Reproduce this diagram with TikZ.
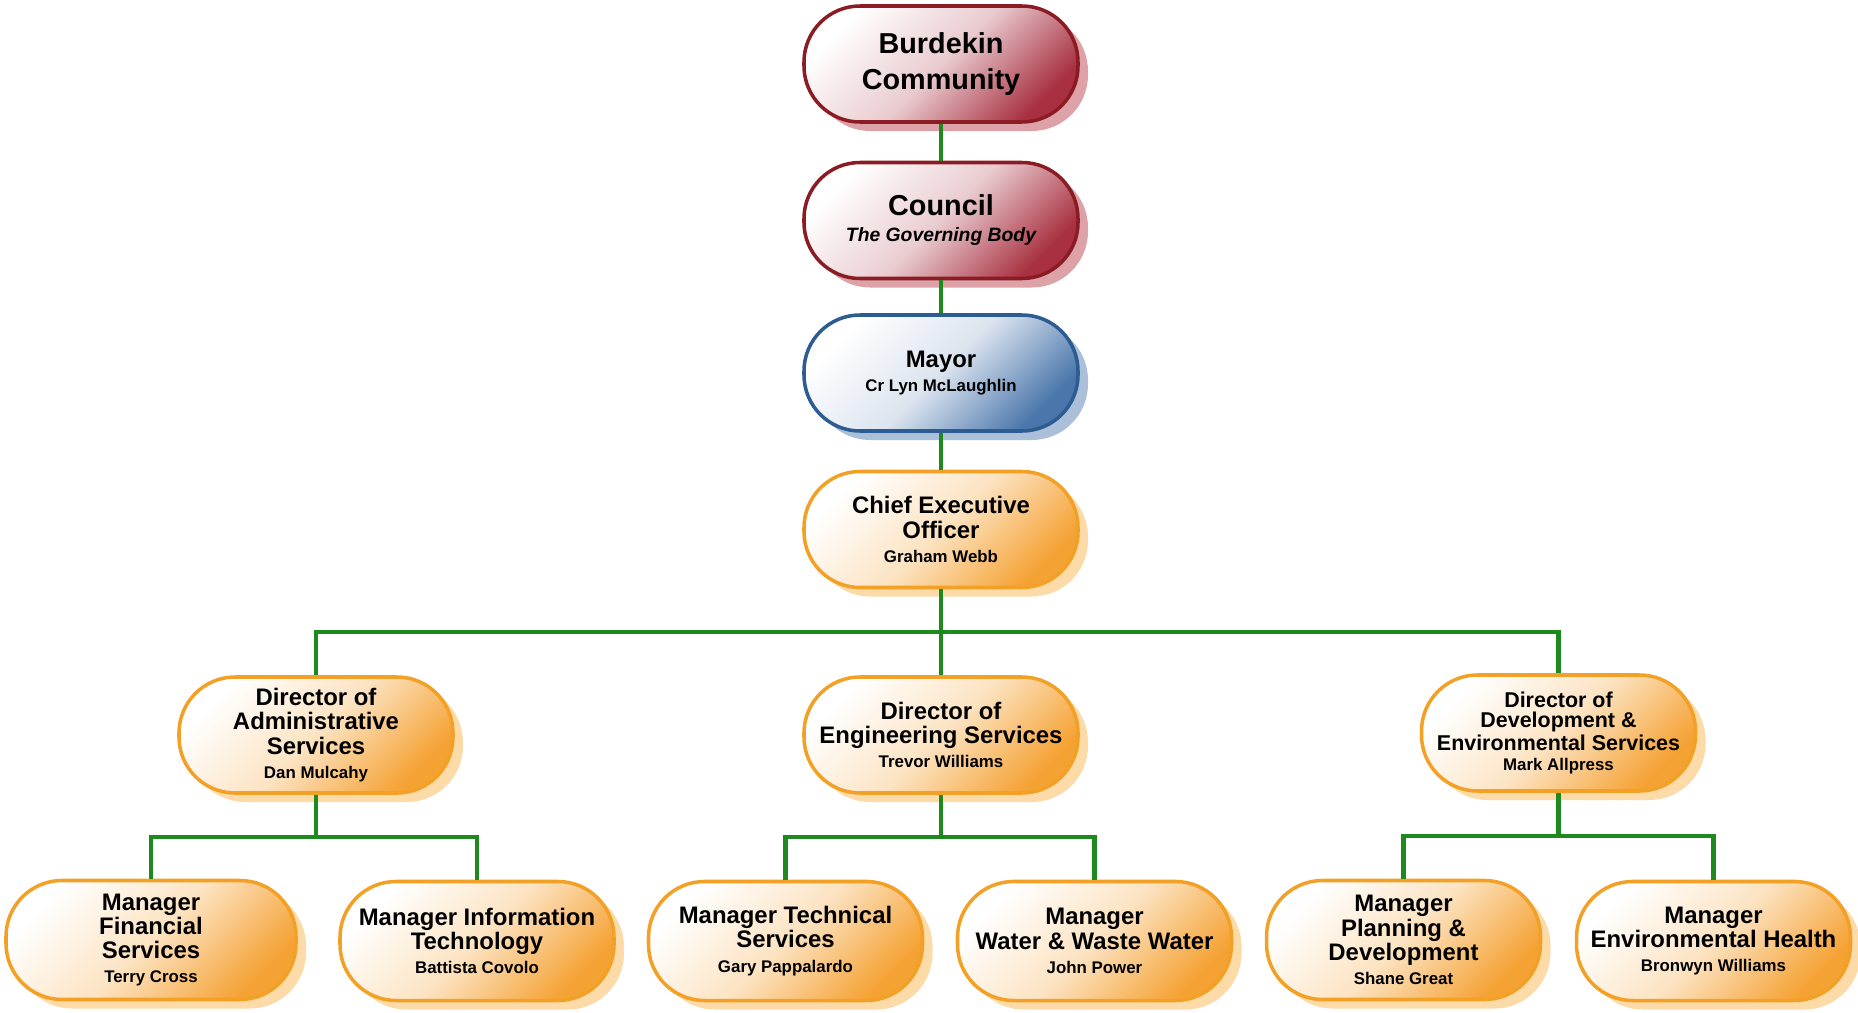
\documentclass[tikz,border=0pt]{standalone}
\usepackage{fontspec}
\setmainfont{Liberation Sans}
\usepackage{tikz}
\usetikzlibrary{shadows,positioning,calc}
\usepackage{xcolor}

\definecolor{redline}{HTML}{8C1C24}
\definecolor{redfill}{HTML}{A83040}
\definecolor{redshade}{HTML}{DDA2A8}
\definecolor{blueline}{HTML}{2D5C92}
\definecolor{bluefill}{HTML}{4A76AC}
\definecolor{blueshade}{HTML}{ABBFD8}
\definecolor{orangeline}{HTML}{F3A126}
\definecolor{orangefill}{HTML}{F5A234}
\definecolor{orangeshade}{HTML}{FCDBA8}
\definecolor{linkgreen}{HTML}{1E8A1E}

\newcommand{\who}[1]{{\fontsize{4.8}{5.4}\selectfont #1}}

\begin{document}
\begin{tikzpicture}[
    box/.style={rectangle, rounded corners=0.56cm, minimum width=2.74cm, minimum height=1.16cm,
        inner sep=1pt, align=center, line width=1pt, font=\fontsize{6.8}{6.9}\selectfont\bfseries},
    redbox/.style={box, draw=redline, top color=white, bottom color=redfill, middle color=redfill!25,
        shading angle=45, drop shadow={shadow xshift=0.1cm, shadow yshift=-0.09cm, fill=redshade, opacity=1}},
    bluebox/.style={box, draw=blueline, top color=white, bottom color=bluefill, middle color=bluefill!20,
        shading angle=45, drop shadow={shadow xshift=0.1cm, shadow yshift=-0.09cm, fill=blueshade, opacity=1}},
    orangebox/.style={box, draw=orangeline, top color=white, bottom color=orangefill, middle color=orangefill!30,
        shading angle=45, drop shadow={shadow xshift=0.1cm, shadow yshift=-0.09cm, fill=orangeshade, opacity=1}},
    mgrbox/.style={orangebox, minimum height=1.19cm},
    link/.style={draw=linkgreen, line width=1.15pt}
]
\useasboundingbox (0,0) rectangle (18.58,-10.13);

% Top of the chart
\node[redbox, font=\fontsize{8.2}{10}\selectfont\bfseries] (comm) at (9.41,-0.64) {Burdekin\\Community};
\node[redbox, font=\fontsize{8.2}{10}\selectfont\bfseries] (council) at (9.41,-2.205)
    {Council\\[-2.6pt]{\fontsize{5.5}{6}\selectfont\itshape The Governing Body}};
\node[bluebox] (mayor) at (9.41,-3.73) {Mayor\\\who{Cr Lyn McLaughlin}};
\node[orangebox] (ceo) at (9.41,-5.295) {Chief Executive\\Officer\\\who{Graham Webb}};

% Directors
\node[orangebox] (dadm) at (3.16,-7.35) {Director of\\Administrative\\Services\\\who{Dan Mulcahy}};
\node[orangebox] (deng) at (9.41,-7.35) {Director of\\Engineering Services\\\who{Trevor Williams}};
\node[orangebox, font=\fontsize{6.1}{5.6}\selectfont\bfseries] (ddev) at (15.585,-7.33)
    {Director of\\Development \&\\Environmental Services\\\who{Mark Allpress}};

% Managers
\node[mgrbox, minimum width=2.9cm] (mfin) at (1.51,-9.40) {Manager\\Financial\\Services\\\who{Terry Cross}};
\node[mgrbox] (mit) at (4.77,-9.41) {Manager Information\\Technology\\\who{Battista Covolo}};
\node[mgrbox] (mtech) at (7.855,-9.41) {Manager Technical\\Services\\\who{Gary Pappalardo}};
\node[mgrbox] (mwater) at (10.945,-9.41) {Manager\\Water \& Waste Water\\\who{John Power}};
\node[mgrbox] (mplan) at (14.035,-9.40) {Manager\\Planning \&\\Development\\\who{Shane Great}};
\node[mgrbox] (menv) at (17.135,-9.41) {Manager\\Environmental Health\\\who{Bronwyn Williams}};

% Links
\draw[link] (comm) -- (council);
\draw[link] (council) -- (mayor);
\draw[link] (mayor) -- (ceo);
\draw[link] (ceo) -- (deng);
\draw[link] (dadm.north) |- ($(ceo.south)!.5!(deng.north)$) -| (ddev.north);

\draw[link] (dadm) -- ($(dadm.south)!.5!(dadm.south |- mfin.north)$) coordinate (badm);
\draw[link] (mfin.north) |- (badm) -| (mit.north);
\draw[link] (deng) -- ($(deng.south)!.5!(deng.south |- mtech.north)$) coordinate (beng);
\draw[link] (mtech.north) |- (beng) -| (mwater.north);
\draw[link] (ddev) -- ($(ddev.south)!.5!(ddev.south |- mplan.north)$) coordinate (bdev);
\draw[link] (mplan.north) |- (bdev) -| (menv.north);
\end{tikzpicture}
\end{document}
